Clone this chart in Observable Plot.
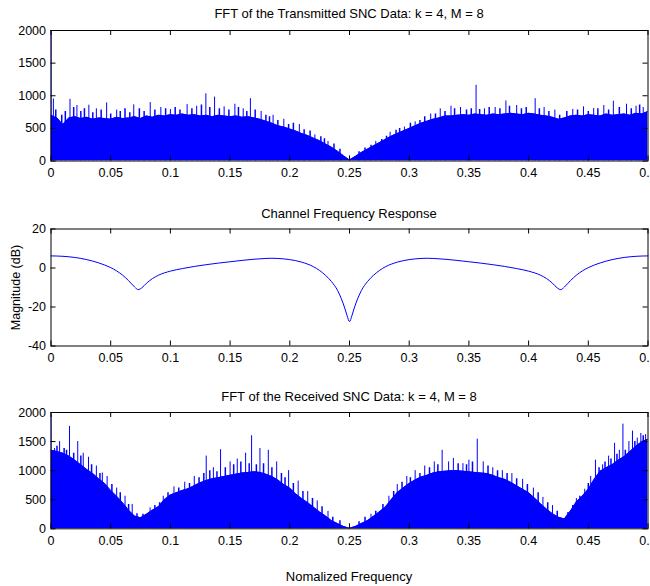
<!DOCTYPE html>
<html><head><meta charset="utf-8">
<script src="https://cdn.jsdelivr.net/npm/d3@7"></script>
<script src="https://cdn.jsdelivr.net/npm/@observablehq/plot@0.6"></script>
<style>
body{margin:0;background:#fff;}
#wrap{position:relative;width:650px;height:586px;overflow:hidden;font-family:"Liberation Sans",Arial,Helvetica,sans-serif;background:#fff;}
.panel{position:absolute;left:0;}
.ttl{position:absolute;left:0;width:698px;text-align:center;font-size:13px;line-height:14px;color:#000;white-space:nowrap;}
</style></head><body><div id="wrap"></div>
<script>
// ---------- data ----------
const xTicks = [0, 0.05, 0.1, 0.15, 0.2, 0.25, 0.3, 0.35, 0.4, 0.45, 0.5];
const magTicks = [0, 500, 1000, 1500, 2000];
const dbTicks = [-40, -20, 0, 20];

const titles = [
  "FFT of the Transmitted SNC Data: k = 4, M = 8",
  "Channel Frequency Response",
  "FFT of the Received SNC Data: k = 4, M = 8"
];
const xLabel = "Nomalized Frequency";
const yLabel2 = "Magnitude (dB)";

// frequency grid step for envelope readings
const envStep = 0.005;

// Transmitted FFT: typical top of the dense spectrum, every 0.005
const txEnvelope = [
  700, 660, 560, 660, 680, 650, 670, 640, 660, 650,
  640, 670, 650, 660, 680, 650, 690, 670, 700, 690,
  710, 700, 720, 700, 710, 690, 700, 680, 700, 690,
  680, 690, 670, 680, 660, 640, 610, 580, 540, 520,
  490, 460, 420, 390, 350, 310, 260, 210, 150, 80,
  15, 70, 130, 180, 230, 280, 330, 380, 420, 460,
  500, 540, 580, 610, 640, 660, 690, 690, 700, 710,
  700, 720, 710, 700, 720, 710, 720, 730, 720, 710,
  730, 720, 700, 690, 670, 640, 660, 690, 700, 690,
  710, 700, 690, 720, 700, 710, 720, 700, 730, 720,
  760
];
// Transmitted FFT: tall spikes
const txSpikeF = [0, 0.002, 0.0159, 0.0217, 0.0317, 0.038, 0.0466, 0.055, 0.0693, 0.0831,
  0.092, 0.1, 0.114, 0.122, 0.1297, 0.137, 0.145, 0.154, 0.161, 0.167,
  0.176, 0.186, 0.195, 0.208, 0.221, 0.232, 0.272, 0.284, 0.296, 0.305,
  0.318, 0.326, 0.335, 0.343, 0.356, 0.363, 0.372, 0.381, 0.39, 0.4055,
  0.413, 0.422, 0.437, 0.446, 0.4545, 0.463, 0.471, 0.482, 0.49, 0.496];
const txSpikeV = [2000, 950, 945, 850, 855, 800, 890, 780, 860, 895,
  820, 790, 865, 840, 1030, 980, 830, 870, 800, 955,
  760, 700, 640, 560, 400, 300, 300, 440, 520, 600,
  720, 800, 840, 820, 1160, 800, 820, 920, 850, 955,
  820, 780, 790, 830, 805, 850, 915, 870, 840, 820];
// Transmitted FFT: small spikes along the ragged top edge
const txMinorF = [0.004, 0.009, 0.012, 0.019, 0.025, 0.028, 0.035, 0.042, 0.05, 0.058,
  0.062, 0.066, 0.074, 0.078, 0.087, 0.096, 0.104, 0.108, 0.118, 0.126,
  0.133, 0.141, 0.149, 0.157, 0.164, 0.171, 0.18, 0.183, 0.19, 0.199,
  0.203, 0.212, 0.217, 0.226, 0.229, 0.237, 0.242, 0.258, 0.263, 0.268,
  0.277, 0.281, 0.289, 0.292, 0.301, 0.309, 0.313, 0.322, 0.33, 0.338,
  0.348, 0.352, 0.359, 0.367, 0.376, 0.384, 0.394, 0.398, 0.409, 0.417,
  0.426, 0.432, 0.441, 0.45, 0.458, 0.467, 0.476, 0.486, 0.493];
const txMinorV = [780, 700, 760, 820, 760, 800, 740, 780, 720, 760,
  800, 740, 800, 760, 780, 800, 820, 780, 800, 860,
  820, 800, 780, 820, 760, 780, 700, 680, 620, 560,
  580, 480, 460, 370, 340, 260, 180, 140, 200, 240,
  330, 380, 470, 500, 580, 620, 680, 720, 760, 800,
  780, 800, 790, 820, 800, 840, 800, 820, 800, 760,
  700, 760, 780, 760, 800, 780, 820, 800, 860];

// Channel frequency response (dB)
const chanF = [0, 0.01, 0.02, 0.03, 0.04, 0.05, 0.055, 0.06, 0.065, 0.07,
  0.073, 0.076, 0.08, 0.085, 0.09, 0.1, 0.11, 0.12, 0.13, 0.14,
  0.15, 0.16, 0.17, 0.18, 0.185, 0.19, 0.2, 0.21, 0.22, 0.225,
  0.23, 0.235, 0.24, 0.243, 0.246, 0.248, 0.25,
  0.252, 0.254, 0.257, 0.26, 0.265, 0.27, 0.275, 0.28, 0.29, 0.3,
  0.31, 0.315, 0.32, 0.33, 0.34, 0.35, 0.36, 0.37, 0.38, 0.39,
  0.4, 0.41, 0.415, 0.42, 0.424, 0.427, 0.43, 0.435, 0.44, 0.445,
  0.45, 0.46, 0.47, 0.48, 0.49, 0.5];
const chanDb = [6.2, 6.0, 5.4, 4.3, 2.6, 0.2, -1.5, -3.7, -6.5, -9.7,
  -11.1, -10.2, -7.8, -5.4, -3.7, -1.6, -0.3, 0.8, 1.7, 2.5,
  3.2, 3.9, 4.5, 4.9, 5.0, 4.9, 4.3, 3.0, 0.6, -1.3,
  -3.8, -7.0, -11.5, -15.5, -20.5, -24.5, -27.5,
  -24.5, -20.5, -15.5, -11.5, -7.0, -3.8, -1.3, 0.6, 3.0, 4.3,
  4.9, 5.0, 4.9, 4.5, 3.9, 3.2, 2.5, 1.7, 0.8, -0.3,
  -1.6, -3.7, -5.4, -7.8, -10.2, -11.1, -9.7, -6.5, -3.7, -1.5,
  0.2, 2.6, 4.3, 5.4, 6.0, 6.2];

// Received FFT: typical top of the dense spectrum, every 0.005
const rxEnvelope = [
  1350, 1330, 1300, 1250, 1180, 1100, 1020, 950, 860, 780,
  660, 560, 450, 320, 220, 190, 250, 320, 380, 500,
  580, 620, 660, 690, 740, 790, 830, 860, 880, 900,
  920, 940, 960, 970, 980, 970, 940, 900, 840, 760,
  700, 600, 520, 450, 370, 290, 220, 140, 90, 40,
  10, 40, 90, 140, 210, 290, 370, 500, 620, 700,
  780, 840, 890, 920, 960, 980, 990, 1000, 1000, 990,
  980, 970, 960, 950, 920, 880, 850, 800, 740, 680,
  620, 530, 430, 340, 260, 200, 170, 300, 460, 560,
  680, 850, 990, 1050, 1100, 1180, 1240, 1330, 1420, 1500,
  1540
];
// Received FFT: tall spikes
const rxSpikeF = [0, 0.003, 0.0072, 0.0155, 0.0224, 0.027, 0.0314, 0.038, 0.043, 0.047,
  0.055, 0.062, 0.068, 0.083, 0.094, 0.103, 0.112, 0.12, 0.13, 0.136,
  0.142, 0.15, 0.156, 0.163, 0.168, 0.175, 0.182, 0.189, 0.199, 0.207,
  0.215, 0.223, 0.232, 0.268, 0.283, 0.29, 0.298, 0.305, 0.313, 0.321,
  0.3276, 0.333, 0.337, 0.345, 0.35, 0.357, 0.362, 0.37, 0.378, 0.386,
  0.395, 0.404, 0.412, 0.42, 0.44, 0.447, 0.452, 0.456, 0.462, 0.467,
  0.472, 0.476, 0.479, 0.484, 0.487, 0.491, 0.494, 0.498];
const rxSpikeV = [1950, 1380, 1500, 1760, 1500, 1300, 1230, 1080, 960, 900,
  700, 560, 420, 360, 560, 720, 800, 900, 1250, 1050,
  1360, 1150, 1200, 1300, 1600, 1380, 1350, 1150, 1000, 820,
  640, 480, 300, 250, 560, 760, 900, 1000, 1080, 1150,
  1350, 1150, 1210, 1120, 1180, 1540, 1150, 1050, 1000, 950,
  850, 700, 540, 400, 520, 680, 900, 1180, 1100, 1250,
  1470, 1350, 1800, 1500, 1680, 1560, 1640, 1620];
// Received FFT: small spikes along the ragged top edge
const rxMinorF = [0.005, 0.011, 0.013, 0.019, 0.025, 0.034, 0.041, 0.051, 0.058, 0.065,
  0.072, 0.077, 0.087, 0.091, 0.098, 0.107, 0.116, 0.124, 0.128, 0.133,
  0.139, 0.146, 0.153, 0.159, 0.166, 0.172, 0.178, 0.185, 0.193, 0.196,
  0.203, 0.211, 0.219, 0.227, 0.236, 0.242, 0.258, 0.263, 0.272, 0.278,
  0.287, 0.294, 0.301, 0.309, 0.317, 0.324, 0.341, 0.348, 0.353, 0.366,
  0.374, 0.382, 0.39, 0.399, 0.408, 0.416, 0.424, 0.433, 0.437, 0.443,
  0.45, 0.459, 0.464, 0.469, 0.474, 0.481, 0.489, 0.496];
const rxMinorV = [1420, 1380, 1350, 1300, 1250, 1100, 950, 760, 620, 420,
  260, 250, 400, 450, 620, 700, 780, 880, 950, 1000,
  980, 1050, 1100, 1150, 1120, 1100, 1120, 1050, 950, 880,
  780, 640, 520, 380, 200, 140, 120, 200, 300, 420,
  640, 800, 880, 950, 1050, 1100, 1120, 1100, 1150, 1080,
  1000, 950, 860, 760, 620, 450, 300, 280, 400, 560,
  780, 1050, 1150, 1200, 1280, 1350, 1500, 1600];

// ---------- build ----------
const BLUE = "#0000ff";
const FONT = '"Liberation Sans", Arial, Helvetica, sans-serif';
const env = (vals) => vals.map((v, i) => ({f: i * envStep, v}));
const pairs = (fs, vs) => fs.map((f, i) => ({f, v: vs[i]}));

const wrap = document.getElementById("wrap");

function panel({top, height, mt, mb, yDomain, yTicks, marks}) {
  const W = 650, ml = 50.5, mr = 2.5;
  const fh = height - mt - mb, fw = W - ml - mr;
  const svg = Plot.plot({
    width: W, height,
    marginTop: mt, marginBottom: mb, marginLeft: ml, marginRight: mr,
    style: {fontFamily: FONT, fontSize: "12.5px", color: "#000", background: "transparent"},
    x: {domain: [0, 0.5], ticks: xTicks, tickFormat: d => String(d), tickSize: 0, tickPadding: 7, label: null},
    y: {domain: yDomain, ticks: yTicks, tickFormat: d => String(d), tickSize: 0, tickPadding: 5, label: null},
    marks: [
      ...marks,
      Plot.ruleX(xTicks, {x: d => d, insetTop: fh - 5, stroke: "#000"}),
      Plot.ruleX(xTicks, {x: d => d, insetBottom: fh - 5, stroke: "#000"}),
      Plot.ruleY(yTicks, {y: d => d, insetRight: fw - 5, stroke: "#000"}),
      Plot.ruleY(yTicks, {y: d => d, insetLeft: fw - 5, stroke: "#000"}),
      Plot.frame({stroke: "#000"})
    ]
  });
  svg.classList.add("panel");
  svg.style.top = top + "px";
  wrap.appendChild(svg);
}

function fftMarks(envVals, sf, sv, mf, mv) {
  const e = env(envVals);
  return [
    Plot.areaY(e, {x: "f", y: "v", fill: BLUE, clip: true}),
    Plot.lineY(e, {x: "f", y: "v", stroke: BLUE, strokeWidth: 1, clip: true}),
    Plot.ruleX(pairs(mf, mv), {x: "f", y1: 0, y2: "v", stroke: BLUE, strokeWidth: 1.5, clip: true}),
    Plot.ruleX(pairs(sf, sv), {x: "f", y1: 0, y2: "v", stroke: BLUE, strokeWidth: 1, clip: true})
  ];
}

panel({top: 0, height: 185, mt: 30, mb: 24.5, yDomain: [0, 2000], yTicks: magTicks,
  marks: fftMarks(txEnvelope, txSpikeF, txSpikeV, txMinorF, txMinorV)});

panel({top: 200, height: 170, mt: 28.5, mb: 24.5, yDomain: [-40, 20], yTicks: dbTicks,
  marks: [
    Plot.line(pairs(chanF, chanDb), {x: "f", y: "v", stroke: BLUE, strokeWidth: 1, curve: "monotone-x"}),
    Plot.text([yLabel2], {frameAnchor: "left", dx: -35.5, rotate: -90, textAnchor: "middle", fontSize: 12.5, fill: "#000"})
  ]});

panel({top: 380, height: 175, mt: 32, mb: 26.7, yDomain: [0, 2000], yTicks: magTicks,
  marks: fftMarks(rxEnvelope, rxSpikeF, rxSpikeV, rxMinorF, rxMinorV)});

function addText(txt, topPx) {
  const d = document.createElement("div");
  d.className = "ttl";
  d.style.top = topPx + "px";
  d.textContent = txt;
  wrap.appendChild(d);
}
addText(titles[0], 7);
addText(titles[1], 207);
addText(titles[2], 390);
addText(xLabel, 570);
</script></body></html>
